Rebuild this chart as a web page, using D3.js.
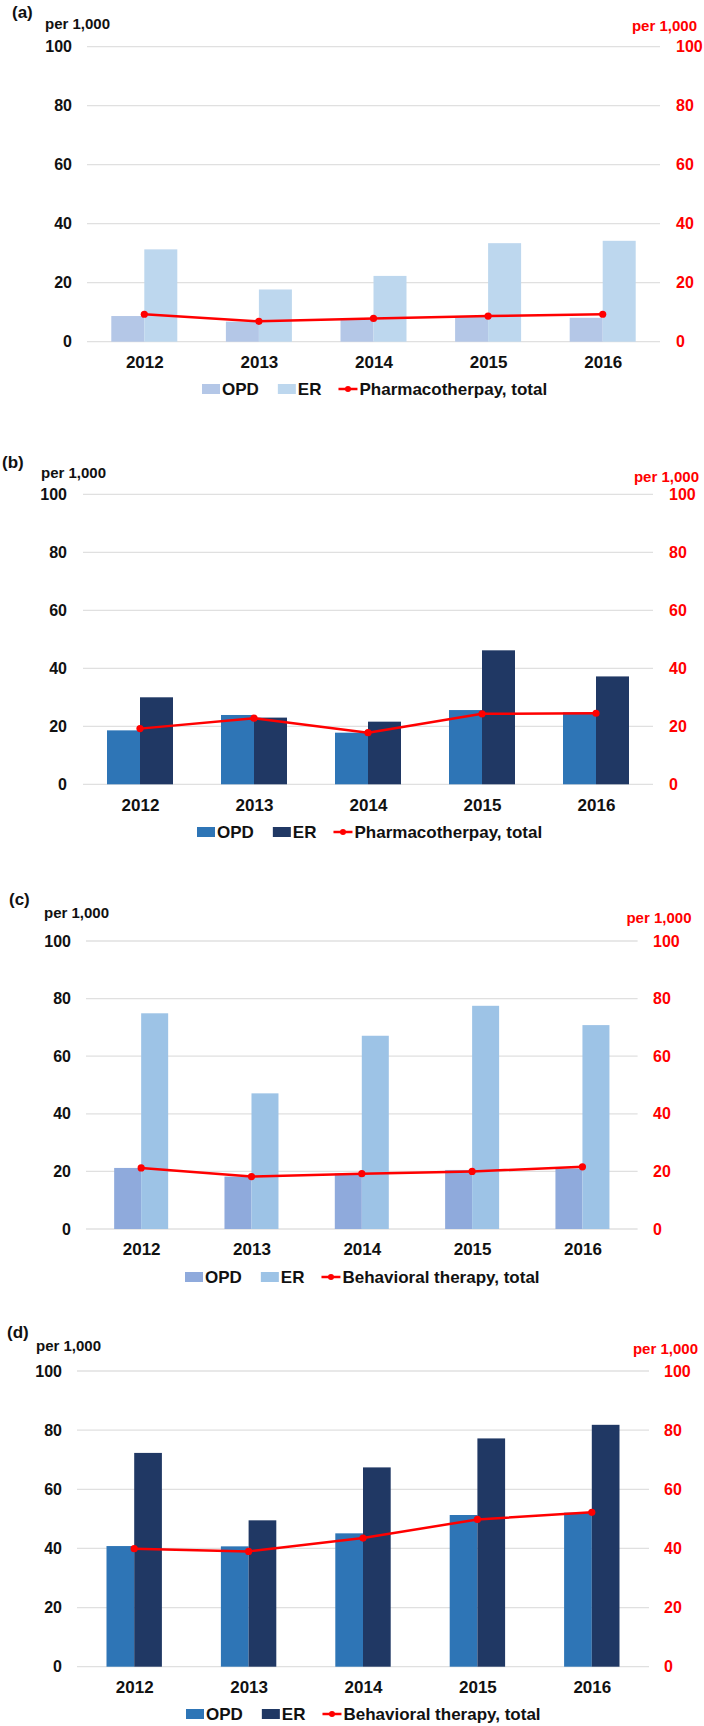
<!DOCTYPE html>
<html>
<head>
<meta charset="utf-8">
<script src="https://cdnjs.cloudflare.com/ajax/libs/d3/7.8.5/d3.min.js"></script>
<style>
  html, body { margin: 0; padding: 0; background: #fff; }
  svg { display: block; }
  text { font-family: "Liberation Sans", Arial, sans-serif; }
</style>
</head>
<body>
<svg id="chart" width="704" height="1726"></svg>
<script>
// ---------- data ----------
const years = ["2012", "2013", "2014", "2015", "2016"];
const yTicks = [0, 20, 40, 60, 80, 100];
const panelLabels = ["(a)", "(b)", "(c)", "(d)"];
const seriesNames = ["OPD", "ER"];
const lineNames = ["Pharmacotherpay, total", "Pharmacotherpay, total",
                   "Behavioral therapy, total", "Behavioral therapy, total"];
const unitLabel = "per 1,000";

const opdA = [8.7, 6.8, 7.9, 8.5, 8.1];
const erA = [31.3, 17.7, 22.3, 33.4, 34.2];
const totalA = [9.3, 6.9, 7.9, 8.7, 9.3];

const opdB = [18.6, 23.9, 17.8, 25.6, 24.8];
const erB = [30.0, 23.0, 21.6, 46.2, 37.2];
const totalB = [19.2, 22.8, 17.8, 24.3, 24.5];

const opdC = [21.2, 18.2, 19.3, 20.5, 21.0];
const erC = [74.9, 47.1, 67.1, 77.5, 70.8];
const totalC = [21.2, 18.2, 19.2, 20.0, 21.6];

const opdD = [40.8, 40.7, 45.1, 51.3, 52.1];
const erD = [72.3, 49.5, 67.4, 77.2, 81.8];
const totalD = [39.9, 39.0, 43.5, 49.8, 52.2];

// ---------- styling / layout ----------
const palettes = [
  ["#b4c7e7", "#bdd7ee"],
  ["#2e75b6", "#203864"],
  ["#8faadc", "#9dc3e6"],
  ["#2e75b6", "#203864"]
];
const RED = "#ff0000";

const layouts = [
  {left: 87, right: 660, top: 46.7, bottom: 341.7, barW: 33,
   lab: [12, 12], perL: [45, 24], perR: [697, 26], tickL: 72, tickR: 676, xLab: 362, leg: [202, 389]},
  {left: 83, right: 653, top: 494.3, bottom: 784.3, barW: 33,
   lab: [2, 462], perL: [41, 473], perR: [699, 477], tickL: 67, tickR: 669, xLab: 805, leg: [197, 832]},
  {left: 86, right: 637.6, top: 941, bottom: 1229, barW: 27,
   lab: [9, 899], perL: [44, 913], perR: [691.5, 918], tickL: 71, tickR: 653, xLab: 1249, leg: [185, 1277]},
  {left: 77, right: 649, top: 1371, bottom: 1666.7, barW: 27.7,
   lab: [7, 1332], perL: [36, 1346], perR: [698, 1349], tickL: 62, tickR: 664, xLab: 1687, leg: [186, 1714]}
];

const panelData = [
  [opdA, erA, totalA],
  [opdB, erB, totalB],
  [opdC, erC, totalC],
  [opdD, erD, totalD]
];

const svg = d3.select("#chart");

panelData.forEach((pd, pi) => {
  const L = layouts[pi];
  const cols = palettes[pi];
  const g = svg.append("g");

  const x = d3.scalePoint().domain(years).range([L.left, L.right]).padding(0.5);
  const y = d3.scaleLinear().domain([0, 100]).range([L.bottom, L.top]);
  const y2 = d3.scaleLinear().domain([0, 100]).range([L.bottom, L.top]);

  // gridlines
  g.append("g").selectAll("line").data(yTicks).join("line")
    .attr("x1", L.left).attr("x2", L.right)
    .attr("y1", d => y(d)).attr("y2", d => y(d))
    .attr("stroke", "#e0e0e0").attr("stroke-width", 1.3);

  // left axis
  const axL = g.append("g").attr("transform", `translate(${L.tickL},0)`)
    .call(d3.axisLeft(y).tickValues(yTicks).tickSize(0).tickPadding(0));
  axL.select(".domain").remove();
  axL.selectAll("text").attr("font-size", 16).attr("font-weight", "bold")
    .attr("fill", "#111").attr("font-family", "Liberation Sans, Arial, sans-serif");

  // right axis
  const axR = g.append("g").attr("transform", `translate(${L.tickR},0)`)
    .call(d3.axisRight(y2).tickValues(yTicks).tickSize(0).tickPadding(0));
  axR.select(".domain").remove();
  axR.selectAll("text").attr("font-size", 16).attr("font-weight", "bold")
    .attr("fill", RED).attr("font-family", "Liberation Sans, Arial, sans-serif");

  // x axis labels
  const axX = g.append("g").attr("transform", `translate(0,${L.xLab})`)
    .call(d3.axisBottom(x).tickSize(0).tickPadding(0));
  axX.select(".domain").remove();
  axX.selectAll("text").attr("font-size", 17).attr("font-weight", "bold")
    .attr("fill", "#111").attr("dy", "0.35em")
    .attr("font-family", "Liberation Sans, Arial, sans-serif");

  // bars
  [0, 1].forEach(si => {
    g.append("g").selectAll("rect").data(pd[si]).join("rect")
      .attr("x", (d, i) => x(years[i]) + (si === 0 ? -L.barW : 0))
      .attr("width", L.barW)
      .attr("y", d => y(d))
      .attr("height", d => y(0) - y(d))
      .attr("fill", cols[si]);
  });

  // line (right axis)
  const line = d3.line().x((d, i) => x(years[i])).y(d => y2(d));
  g.append("path").datum(pd[2]).attr("d", line)
    .attr("fill", "none").attr("stroke", RED).attr("stroke-width", 2.5)
    .attr("stroke-linejoin", "round");
  g.append("g").selectAll("circle").data(pd[2]).join("circle")
    .attr("cx", (d, i) => x(years[i])).attr("cy", d => y2(d))
    .attr("r", 3.6).attr("fill", RED);

  // panel label
  g.append("text").attr("x", L.lab[0]).attr("y", L.lab[1]).attr("dy", "0.35em")
    .attr("font-size", 17).attr("font-weight", "bold").attr("fill", "#111").text(panelLabels[pi]);

  // unit labels
  g.append("text").attr("x", L.perL[0]).attr("y", L.perL[1]).attr("dy", "0.35em")
    .attr("font-size", 15).attr("font-weight", "bold").attr("fill", "#111").text(unitLabel);
  g.append("text").attr("x", L.perR[0]).attr("y", L.perR[1]).attr("dy", "0.35em")
    .attr("text-anchor", "end")
    .attr("font-size", 15).attr("font-weight", "bold").attr("fill", RED).text(unitLabel);

  // legend
  const lg = g.append("g");
  let cx = L.leg[0];
  const cy = L.leg[1];
  const addText = (t) => {
    const tx = lg.append("text").attr("x", cx).attr("y", cy).attr("dy", "0.35em")
      .attr("font-size", 17).attr("font-weight", "bold").attr("fill", "#111").text(t);
    cx += tx.node().getComputedTextLength();
  };
  [0, 1].forEach(si => {
    lg.append("rect").attr("x", cx).attr("y", cy - 5).attr("width", 18).attr("height", 10)
      .attr("fill", cols[si]);
    cx += 20;
    addText(seriesNames[si]);
    cx += 19;
  });
  cx -= 2;
  lg.append("line").attr("x1", cx).attr("x2", cx + 19).attr("y1", cy).attr("y2", cy)
    .attr("stroke", RED).attr("stroke-width", 2.5);
  lg.append("circle").attr("cx", cx + 9.5).attr("cy", cy).attr("r", 3).attr("fill", RED);
  cx += 21;
  addText(lineNames[pi]);
});
</script>
</body>
</html>
